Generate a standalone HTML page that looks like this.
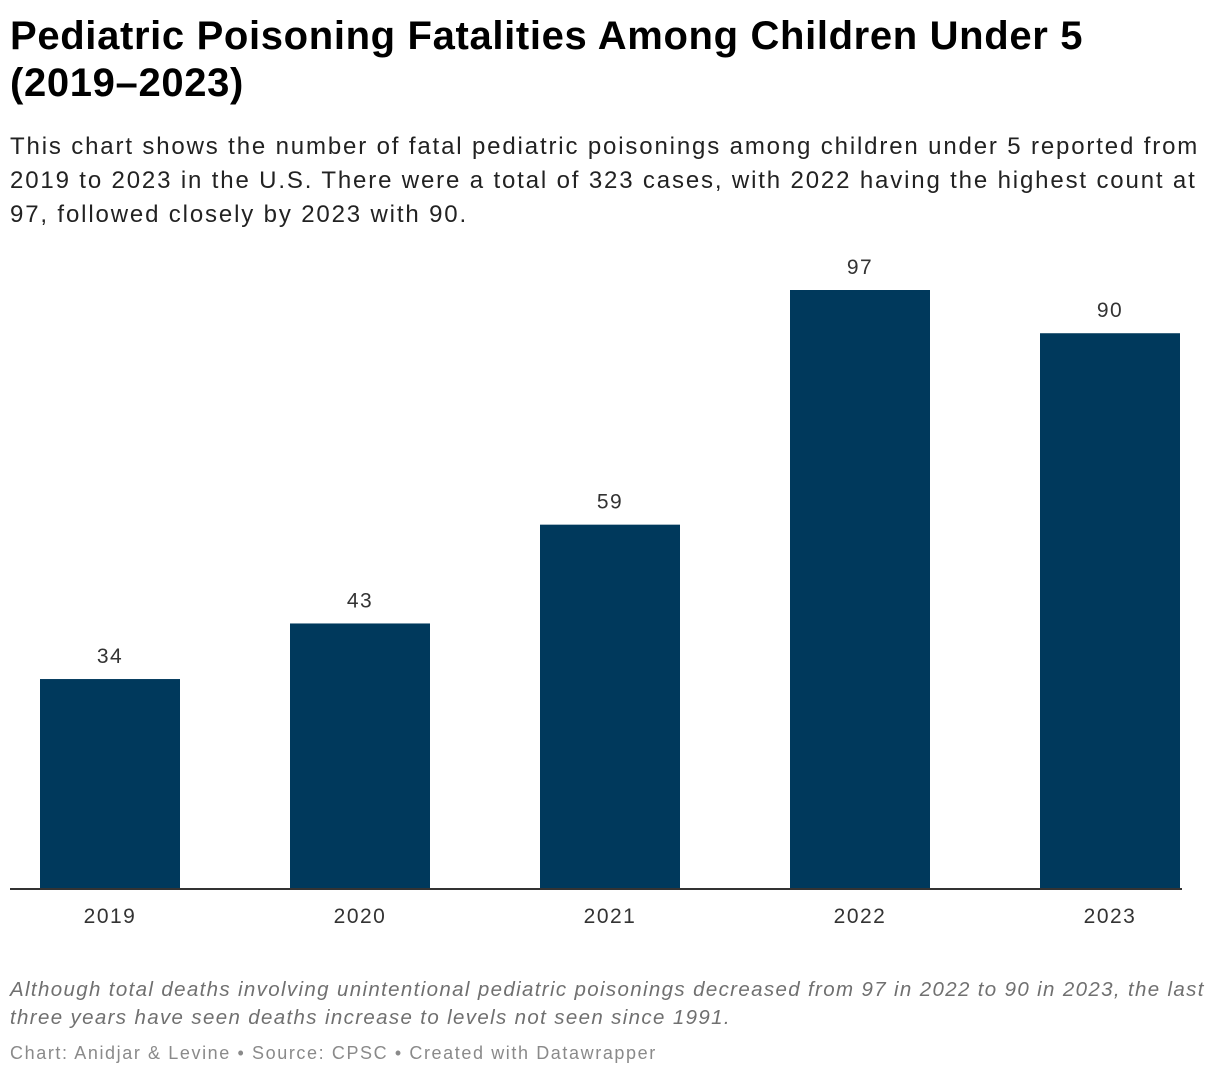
<!DOCTYPE html>
<html><head><meta charset="utf-8">
<style>
body{margin:0;width:1220px;height:1078px;background:#fff;font-family:"Liberation Sans",Roboto,sans-serif;position:relative;overflow:hidden}
#title{position:absolute;left:10px;top:13px;width:1210px;font-size:40px;font-weight:bold;line-height:47px;color:#000;margin:0;letter-spacing:0.65px;white-space:nowrap}
#sub{position:absolute;left:10px;top:130px;width:1210px;font-size:24px;line-height:34px;color:#222;margin:0;letter-spacing:1.85px;white-space:nowrap}
#note{position:absolute;left:10px;top:976px;width:1210px;font-size:20.5px;line-height:28px;color:#707070;font-style:italic;letter-spacing:1.35px;white-space:nowrap}
#foot{position:absolute;left:10px;top:1043px;font-size:18px;color:#8a8a8a;letter-spacing:1.6px;white-space:nowrap}
svg{position:absolute;left:0;top:0}
</style></head><body>
<h1 id="title">Pediatric Poisoning Fatalities Among Children Under 5<br>(2019–2023)</h1>
<p id="sub">This chart shows the number of fatal pediatric poisonings among children under 5 reported from<br>2019 to 2023 in the U.S. There were a total of 323 cases, with 2022 having the highest count at<br>97, followed closely by 2023 with 90.</p>
<svg id="chart" width="1220" height="1078"></svg>
<div id="note">Although total deaths involving unintentional pediatric poisonings decreased from 97 in 2022 to 90 in 2023, the last<br>three years have seen deaths increase to levels not seen since 1991.</div>
<div id="foot">Chart: Anidjar &amp; Levine • Source: CPSC • Created with Datawrapper</div>
<script>
const categories=["2019","2020","2021","2022","2023"];
const values=[34,43,59,97,90];
const NS="http://www.w3.org/2000/svg";
const svg=document.getElementById('chart');
const baseY=889, pxPerUnit=599/97, x0=40, step=250, bw=140;
function xPos(i){return x0+i*step;}
function yPos(v){return baseY-v*pxPerUnit;}
function mk(tag,attrs){const e=document.createElementNS(NS,tag);for(const k in attrs)e.setAttribute(k,attrs[k]);svg.appendChild(e);return e;}
categories.forEach((c,i)=>{
  const v=values[i];
  const r=mk('rect',{x:xPos(i),y:yPos(v),width:bw,height:baseY-yPos(v),fill:'#00395c'});
  
  
  const t=mk('text',{x:xPos(i)+bw/2,y:yPos(v)-16,'text-anchor':'middle','font-size':'21','fill':'#333','letter-spacing':'1.5','font-family':'Liberation Sans, sans-serif'});
  t.textContent=v;
  
  
  const a=mk('text',{x:xPos(i)+bw/2,y:923,'text-anchor':'middle','font-size':'21','fill':'#333','letter-spacing':'1.5','font-family':'Liberation Sans, sans-serif'});
  a.textContent=c;
  
  
});
const ax=mk('line',{x1:10,x2:1182,y1:baseY,y2:baseY,stroke:'#333','stroke-width':'2'});


</script>
</body></html>
